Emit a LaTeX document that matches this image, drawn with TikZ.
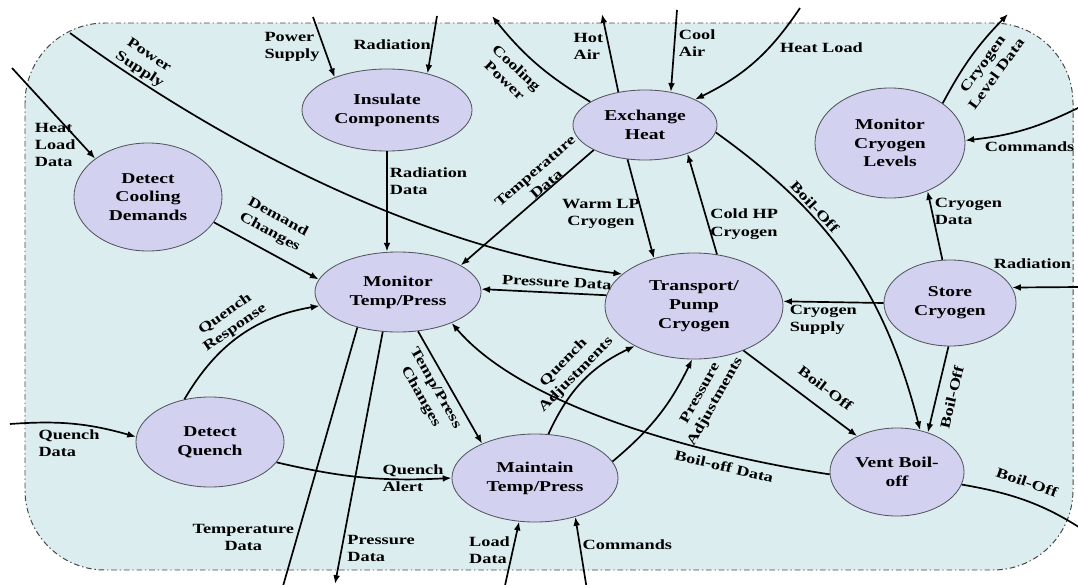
\documentclass[tikz,border=0pt]{standalone}
\usepackage{fontspec}
\setmainfont[FakeStretch=1.3]{Liberation Serif}
\usetikzlibrary{arrows.meta,shapes.geometric}
\definecolor{bgfill}{RGB}{219,237,238}
\definecolor{procfill}{RGB}{210,210,240}
\definecolor{procline}{RGB}{85,85,95}
\definecolor{frameline}{RGB}{70,70,70}
\newcommand\procfont{\bfseries\fontsize{10.7}{13.4}\selectfont}
\newcommand\lblfont{\bfseries\fontsize{10}{12.2}\selectfont}

\begin{document}
\begin{tikzpicture}[
  x=0.025cm, y=0.025cm,
  proc/.style={ellipse, draw=procline, line width=0.6pt, fill=procfill, align=center, inner sep=0pt, font=\procfont},
  ellsize/.style 2 args={minimum width=#1*0.05cm, minimum height=#2*0.05cm},
  flow/.style={-{Latex[length=2.2mm, width=1.7mm]}, line width=1.2pt},
  lbl/.style={font=\lblfont, align=center, inner sep=1.5pt},
  frame/.style={draw=frameline, line width=0.7pt, fill=bgfill, rounded corners=2cm,
    dash pattern=on 4pt off 2pt on 1pt off 2pt},
]
  \useasboundingbox (0,0) rectangle (1078,-585);
  \path[frame] (25,-23) rectangle (1073,-570);

  \node[proc, ellsize={85}{41}] (ins) at (387,-110) {Insulate\\Components};
  \node[proc, ellsize={72}{35}] (exh) at (645,-125) {Exchange\\Heat};
  \node[proc, ellsize={75}{55}] (mcl) at (890,-143) {Monitor\\Cryogen\\Levels};
  \node[proc, ellsize={74}{54}] (dcd) at (148,-197) {Detect\\Cooling\\Demands};
  \node[proc, ellsize={83}{40}] (mtp) at (398,-292) {Monitor\\Temp/Press};
  \node[proc, ellsize={89}{53}] (tpc) at (694,-306) {Transport/\\Pump\\Cryogen};
  \node[proc, ellsize={66}{43}] (sto) at (950,-303) {Store\\Cryogen};
  \node[proc, ellsize={74}{45}] (dq) at (210,-442) {Detect\\Quench};
  \node[proc, ellsize={83}{44}] (mnt) at (535,-478) {Maintain\\Temp/Press};
  \node[proc, ellsize={67}{44}] (vnt) at (897,-472) {Vent Boil-\\off};

  \coordinate (psIn) at (70,-33);
  \coordinate (hldIn) at (12,-68);
  \coordinate (psTop) at (313,-17);
  \coordinate (radTop) at (437,-16);
  \coordinate (cpOut) at (492,-16);
  \coordinate (haOut) at (602,-14);
  \coordinate (caIn) at (677,-10);
  \coordinate (hlIn) at (800,-8);
  \coordinate (cldOut) at (1008,-14);
  \coordinate (cmdIn) at (1080,-107);
  \coordinate (radIn) at (1080,-287);
  \coordinate (boOut) at (1094,-537);
  \coordinate (qdIn) at (10,-424);
  \coordinate (tdOut) at (279,-600);
  \coordinate (pdOut) at (335,-584);
  \coordinate (ldIn) at (504,-590);
  \coordinate (cmIn) at (587,-590);

  \draw[flow] (psIn) .. controls (230,-150) and (430,-250) .. node[lbl, sloped, above, pos=0.13] {Power\\Supply} (tpc.156);
  \draw[flow] (hldIn) -- node[lbl, left=3pt, align=left, pos=0.85] {Heat\\Load\\Data} (dcd.144);
  \draw[flow] (psTop) -- node[lbl, left=1pt, align=left, pos=0.5] {Power\\Supply} (ins.148);
  \draw[flow] (radTop) -- node[lbl, left, inner sep=0.5pt, pos=0.5] {Radiation} (ins.42);
  \draw[flow] (ins.south) -- node[lbl, right, align=left, pos=0.3] {Radiation\\Data} (ins.south |- mtp.north);
  \draw[flow] (dcd.-21) -- node[lbl, sloped, above=6pt, pos=0.45] {Demand\\Changes} (mtp.171);

  \draw[flow] (exh.157) to[bend left=10] node[lbl, sloped, below=6pt, pos=0.6] {Cooling\\Power} (cpOut);
  \draw[flow] (exh.129) -- node[lbl, left=2pt, align=left, pos=0.58] {Hot\\Air} (haOut);
  \draw[flow] (caIn) -- node[lbl, right=1pt, align=left, pos=0.4] {Cool\\Air} (exh.52);
  \draw[flow] (hlIn) to[bend left=15] node[lbl, right=6pt, pos=0.35] {Heat Load} (exh.27);
  \draw[flow] (exh.206) -- node[lbl, sloped, above, inner sep=0pt, pos=0.33] {Temperature\\Data} (mtp.23);
  \draw[flow] (exh.-117) -- node[lbl, left, inner sep=1pt, pos=0.55] {Warm LP\\Cryogen} (tpc.130);
  \draw[flow] (tpc.66) -- node[lbl, right, inner sep=1pt, align=left, pos=0.3] {Cold HP\\Cryogen} (exh.-34);
  \draw[flow] (exh.-6) to[bend left=20] node[lbl, sloped, above, pos=0.32] {Boil-Off} (vnt.61);

  \draw[flow] (mcl.37) to[bend left=8] node[lbl, sloped, below=4pt, pos=0.5] {Cryogen\\Level Data} (cldOut);
  \draw[flow] (cmdIn) to[bend left=10] node[lbl, below=8pt, pos=0.45] {Commands} (mcl.2);
  \draw[flow] (sto.100) -- node[lbl, right, align=left, pos=0.7] {Cryogen\\Data} (mcl.-52);
  \draw[flow] (radIn) -- node[lbl, above=11pt, pos=0.7] {Radiation} (sto.14);
  \draw[flow] (sto.180) -- node[lbl, below, align=left, pos=0.6] {Cryogen\\Supply} (tpc.3);
  \draw[flow] (tpc.173) -- node[lbl, sloped, above=2pt, pos=0.4] {Pressure Data} (mtp.2);
  \draw[flow] (sto.-92) -- node[lbl, sloped, below=5pt, pos=0.55] {Boil-Off} (vnt.52);
  \draw[flow] (tpc.-42) -- node[lbl, sloped, above=8pt, pos=0.62] {Boil-Off} (vnt.138);
  \draw[flow] (vnt.182) .. controls (702,-455) and (524,-408) .. node[lbl, sloped, below=3pt, pos=0.25] {Boil-off Data} (mtp.-30);
  \draw[flow] (vnt.-11) to[bend left=12] node[lbl, sloped, above=7pt, pos=0.42] {Boil-Off} (boOut);

  \draw[flow] (mtp.-63) -- node[lbl, sloped, below=3pt, pos=0.45] {Temp/Press\\Changes} (mnt.147);
  \draw[flow] (mtp.-139) -- node[lbl, left, pos=0.77] {Temperature\\Data} (tdOut);
  \draw[flow] (mtp.-111) -- node[lbl, right=2pt, align=left, pos=0.86] {Pressure\\Data} (pdOut);
  \draw[flow] (dq.121) to[bend left=25] node[lbl, sloped, above, pos=0.5] {Quench\\Response} (mtp.190);
  \draw[flow] (qdIn) to[bend left=10] node[lbl, below=2pt, align=left, pos=0.46] {Quench\\Data} (dq.176);
  \draw[flow] (dq.-17) to[bend right=8] node[lbl, anchor=west, align=left, pos=0.6] {Quench\\Alert} (mnt.west);
  \draw[flow] (mnt.73) to[bend left=20] node[lbl, sloped, above, pos=0.5] {Quench\\Adjustments} (tpc.214);
  \draw[flow] (mnt.12) to[bend right=12] node[lbl, sloped, below=10pt, pos=0.82] {Pressure\\Adjustments} (tpc.-92);
  \draw[flow] (ldIn) -- node[lbl, left, align=left, pos=0.58] {Load\\Data} (mnt.-110);
  \draw[flow] (cmIn) -- node[lbl, right=0pt, pos=0.62] {Commands} (mnt.-44);
\end{tikzpicture}
\end{document}
